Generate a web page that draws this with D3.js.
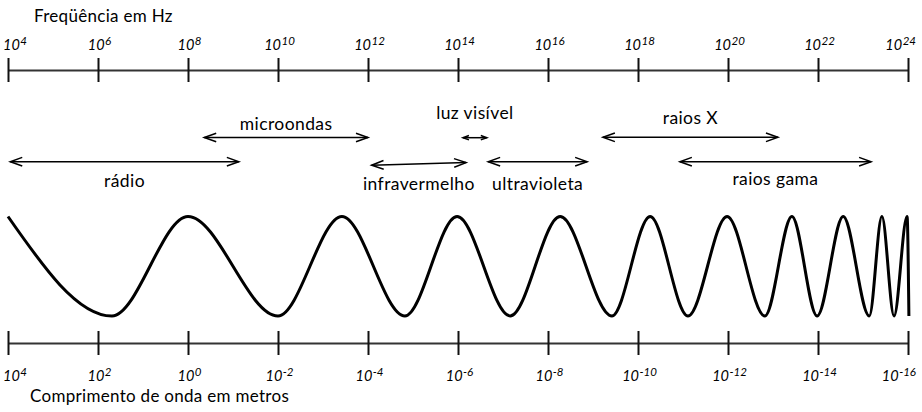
<!DOCTYPE html>
<html>
<head>
<meta charset="utf-8">
<script src="https://cdn.jsdelivr.net/npm/d3@7/dist/d3.min.js"></script>
<style>
  html, body { margin: 0; padding: 0; background: #fff; }
  svg { display: block; }
  text { font-family: Lato, "Noto Sans", sans-serif; fill: #000; }
</style>
</head>
<body>
<svg id="chart" width="922" height="412"></svg>
<script>
// ---------- data ----------
const freqExponents = [4, 6, 8, 10, 12, 14, 16, 18, 20, 22, 24];          // 10^n Hz
const wavelengthExponents = [4, 2, 0, -2, -4, -6, -8, -10, -12, -14, -16]; // 10^n m
const bandNames = ["rádio", "microondas", "infravermelho", "luz visível", "ultravioleta", "raios X", "raios gama"];
const bandFromLogHz = [4.05, 8.36, 12.08, 14.11, 14.67, 17.22, 18.93];
const bandToLogHz   = [9.13, 12.0, 14.18, 14.64, 16.87, 21.11, 23.18];
// wave extrema (log10 Hz) and level (+1 crest, -1 trough)
const waveLogHz  = [4.0, 6.31, 8.0, 10.0, 11.42, 12.82, 13.98, 15.16, 16.27, 17.42, 18.27, 19.11, 19.98, 20.82, 21.42, 21.98, 22.56, 23.14, 23.42, 23.69, 23.98, 24.02];
const waveLevel  = [1, -1, 1, -1, 1, -1, 1, -1, 1, -1, 1, -1, 1, -1, 1, -1, 1, -1, 1, -1, 1, -1];
const titleFreq = "Freqüência em Hz";
const titleWave = "Comprimento de onda em metros";

// ---------- layout ----------
const W = 922, H = 412;
const X0 = 8, X1 = 908;
const topAxisY = 70, bottomAxisY = 343;
const bandLayout = {
  "rádio":         { y0: 161.7, y1: 161.7, labelDy: 25.5, head: 12 },
  "microondas":    { y0: 137.5, y1: 137.5, labelDy: -7.5, head: 12 },
  "infravermelho": { y0: 165.2, y1: 162.6, labelDy: 26,   head: 12 },
  "luz visível":   { y0: 137.7, y1: 137.7, labelDy: -18.5, head: 6 },
  "ultravioleta":  { y0: 161.7, y1: 161.7, labelDy: 28,   head: 12 },
  "raios X":       { y0: 137.3, y1: 137.3, labelDy: -13,  head: 12 },
  "raios gama":    { y0: 161.7, y1: 161.7, labelDy: 23.5, head: 12 }
};

const svg = d3.select("#chart");
svg.append("rect").attr("width", W).attr("height", H).attr("fill", "#fff");

const xFreq = d3.scaleLog().domain([1e4, 1e24]).range([X0, X1]);
const xWave = d3.scaleLog().domain([1e4, 1e-16]).range([X0, X1]);
const yWave = d3.scaleLinear().domain([-1, 1]).range([316, 216.5]);

// ---------- axes ----------
function drawAxis(scale, exps, y, labelBaseline) {
  const g = svg.append("g").attr("transform", `translate(0,${y})`);
  const axis = d3.axisBottom(scale)
    .tickValues(exps.map(e => Math.pow(10, e)))
    .tickSizeOuter(0).tickSizeInner(12).tickFormat("");
  g.call(axis);
  g.select(".domain").attr("stroke", "#333").attr("stroke-width", 2);
  g.selectAll(".tick line").attr("y1", -12).attr("y2", 12)
    .attr("stroke", "#111").attr("stroke-width", 2);
  g.selectAll(".tick text").remove();
  exps.forEach(e => {
    const x = scale(Math.pow(10, e));
    const lab = svg.append("text")
      .attr("y", labelBaseline)
      .attr("font-style", "italic")
      .attr("font-size", 14.5);
    lab.append("tspan").text("10");
    lab.append("tspan").attr("font-size", 11.5).attr("dy", -5.5).attr("dx", 0.5).text(String(e));
    const w = lab.node().getComputedTextLength() + 0.5;
    let left = x - w / 2 + 1.5;
    left = Math.max(3, Math.min(left, 916 - w));
    lab.attr("x", left);
  });
}
drawAxis(xFreq, freqExponents, topAxisY, 50);
drawAxis(xWave, wavelengthExponents, bottomAxisY, 381);

// ---------- titles ----------
svg.append("text").attr("x", 34).attr("y", 22).attr("font-size", 17).attr("letter-spacing", 0.3).text(titleFreq);
svg.append("text").attr("x", 30).attr("y", 402).attr("font-size", 17).attr("letter-spacing", 0.3).text(titleWave);

// ---------- bands ----------
function chevron(xt, yt, ang, L, h) {
  const c = Math.cos(ang), s = Math.sin(ang);
  const bx = xt - L * c, by = yt - L * s;
  return `M${bx - h * s},${by + h * c}L${xt},${yt}L${bx + h * s},${by - h * c}`;
}
bandNames.forEach((name, i) => {
  const lay = bandLayout[name];
  const xa = xFreq(Math.pow(10, bandFromLogHz[i]));
  const xb = xFreq(Math.pow(10, bandToLogHz[i]));
  const ang = Math.atan2(lay.y1 - lay.y0, xb - xa);
  const L = lay.head, h = L * 0.36;
  const g = svg.append("g").attr("fill", "none").attr("stroke", "#000").attr("stroke-width", 1.5);
  g.append("path").attr("d", `M${xa},${lay.y0}L${xb},${lay.y1}`);
  g.append("path").attr("d", chevron(xb, lay.y1, ang, L, h));
  g.append("path").attr("d", chevron(xa, lay.y0, ang + Math.PI, L, h));
  svg.append("text")
    .attr("x", (xa + xb) / 2).attr("y", (lay.y0 + lay.y1) / 2 + lay.labelDy)
    .attr("text-anchor", "middle").attr("font-size", 17.5).attr("letter-spacing", 0.4)
    .text(name);
});

// ---------- wave ----------
const pts = waveLogHz.map((v, i) => [xFreq(Math.pow(10, v)), yWave(waveLevel[i])]);
svg.append("path")
  .attr("d", d3.line().curve(d3.curveMonotoneX)(pts))
  .attr("fill", "none").attr("stroke", "#000").attr("stroke-width", 3)
  .attr("stroke-linejoin", "round");
</script>
</body>
</html>
